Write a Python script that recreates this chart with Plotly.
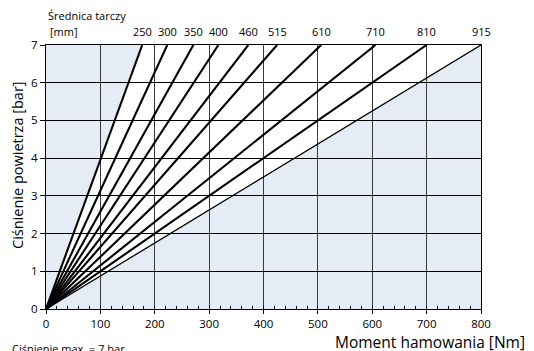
import plotly.graph_objects as go

# disc diameters [mm] and braking moment reached at max pressure (7 bar)
diameters = [250, 300, 350, 400, 460, 515, 610, 710, 810, 915]
moment_at_max = [177, 223, 271, 317, 372, 425, 506, 606, 700, 800]
pressure = [0, 7]

x_ticks = [0, 100, 200, 300, 400, 500, 600, 700, 800]
y_ticks = [0, 1, 2, 3, 4, 5, 6, 7]

FONT = "Open Sans"
SHADE = "#e5ecf5"

fig = go.Figure()

for i, (d, m) in enumerate(zip(diameters, moment_at_max)):
    last = i == len(diameters) - 1
    fig.add_trace(go.Scatter(
        x=[0, m],
        y=pressure,
        mode="lines",
        line=dict(color="black", width=1.3 if last else 2.1),
        hoverinfo="skip",
        showlegend=False,
    ))

# white working area between the smallest and the largest disc
path = "M 0,0 L {},{} L {},{} Z".format(
    moment_at_max[0], pressure[1], moment_at_max[-1], pressure[1])
shapes = [dict(type="path", path=path, xref="x", yref="y",
               fillcolor="white", line=dict(width=0), layer="below")]

annotations = []
for d, m in zip(diameters, moment_at_max):
    annotations.append(dict(
        x=m, y=1.05, xref="x", yref="paper", text=str(d),
        showarrow=False, xanchor="center", yanchor="middle",
        font=dict(size=11, color="black"),
    ))

annotations += [
    dict(x=0, y=1.11, xref="paper", yref="paper", text="Średnica tarczy",
         showarrow=False, xanchor="left", yanchor="middle",
         font=dict(size=11, color="black")),
    dict(x=0.004, y=1.05, xref="paper", yref="paper", text="[mm]",
         showarrow=False, xanchor="left", yanchor="middle",
         font=dict(size=11, color="black")),
    dict(x=1.105, y=-0.125, xref="paper", yref="paper",
         text="Moment hamowania [Nm]", showarrow=False,
         xanchor="right", yanchor="middle",
         font=dict(size=15.5, color="black")),
    dict(x=-0.067, y=0.545, xref="paper", yref="paper",
         text="Ciśnienie powietrza [bar]", showarrow=False, textangle=-90,
         xanchor="center", yanchor="middle",
         font=dict(size=14.5, color="black")),
    dict(x=-0.083, y=-0.115, xref="paper", yref="paper",
         text="Ciśnienie max. = 7 bar", showarrow=False,
         xanchor="left", yanchor="top",
         font=dict(size=11, color="black")),
]

fig.update_layout(
    width=534,
    height=351,
    margin=dict(l=46, r=53, t=45, b=42),
    paper_bgcolor="white",
    plot_bgcolor=SHADE,
    font=dict(family=FONT, color="black"),
    shapes=shapes,
    annotations=annotations,
    xaxis=dict(
        range=[0, 800],
        tickvals=x_ticks,
        ticks="outside", ticklen=4, tickcolor="black",
        tickfont=dict(size=11.5),
        showgrid=True, gridcolor="#3a3a3a", gridwidth=1.4,
        showline=True, linecolor="black", linewidth=1.2, mirror=True,
        zeroline=False,
        minor=dict(dtick=20, ticks="inside", ticklen=3, tickcolor="black",
                   showgrid=False),
    ),
    yaxis=dict(
        range=[0, 7],
        tickvals=y_ticks,
        ticks="outside", ticklen=5, tickcolor="black",
        tickfont=dict(size=11.5),
        showgrid=True, gridcolor="black", gridwidth=1,
        showline=True, linecolor="black", linewidth=1.2, mirror=True,
        zeroline=False,
    ),
)

# page body has a default 8px margin; drop it so the figure sits at 0,0
fig.write_html("out.html", config=dict(displayModeBar=False),
               post_script="document.body.style.margin='0';")
